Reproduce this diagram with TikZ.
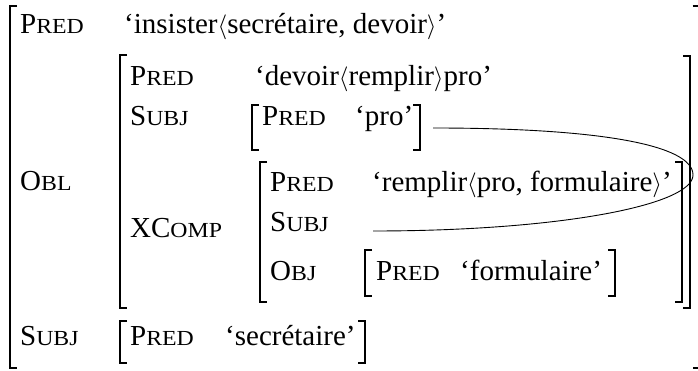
\documentclass[tikz,border=0pt]{standalone}
\usepackage{fontspec}
\setmainfont{Liberation Serif}
\usepackage{graphicx}
% small capitals built from scaled capitals
\newcommand\avmsc[2]{#1\scalebox{0.82}[0.74]{#2}}
\tikzset{
  attr/.style={anchor=base west, inner sep=0pt, font=\fontsize{29}{33}\selectfont},
  val/.style={attr},
  brk/.style={line width=1.2pt, line cap=butt, line join=miter},
  link/.style={line width=0.9pt},
}
% left and right square brackets: x, top, bottom
\newcommand\lbrk[3]{\draw[brk] (#1+7,#2) -- (#1,#2) -- (#1,#3) -- (#1+7,#3);}
\newcommand\rbrk[3]{\draw[brk] (#1-7,#2) -- (#1,#2) -- (#1,#3) -- (#1-7,#3);}
\begin{document}
\begin{tikzpicture}[x=1pt,y=-1pt]
\useasboundingbox (0,0) rectangle (698,371);

% outer f-structure
\lbrk{10}{6}{368}
\rbrk{699.5}{6}{368}
\node[attr] (pred1) at (20,34) {\avmsc{P}{RED}};
\node[val]  (pred1v) at (124,34) {‘insister$\langle$secrétaire, devoir$\rangle$’};
\node[attr] (obl) at (20,191) {\avmsc{O}{BL}};
\node[attr] (subj1) at (20,345) {\avmsc{S}{UBJ}};

% OBL value
\lbrk{120}{55}{308}
\rbrk{690}{56}{308}
\node[attr] (pred2) at (130,86) {\avmsc{P}{RED}};
\node[val]  (pred2v) at (255,86) {‘devoir$\langle$remplir$\rangle$pro’};
\node[attr] (subj2) at (130,126) {\avmsc{S}{UBJ}};
\node[attr] (xcomp) at (130,238) {X\avmsc{C}{OMP}};

% SUBJ value of OBL
\lbrk{252}{105}{150}
\node[attr] (pred3) at (262,126) {\avmsc{P}{RED}};
\node[val]  (pred3v) at (355,126) {‘pro’};
\rbrk{420}{105}{150}

% XCOMP value
\lbrk{260}{162}{302}
\rbrk{682}{162}{302}
\node[attr] (pred4) at (270,192) {\avmsc{P}{RED}};
\node[val]  (pred4v) at (372,192) {‘remplir$\langle$pro, formulaire$\rangle$’};
\node[attr] (subj4) at (270,232) {\avmsc{S}{UBJ}};
\node[attr] (obj4) at (270,280) {\avmsc{O}{BJ}};

% OBJ value of XCOMP
\lbrk{365}{250}{296}
\node[attr] (pred5) at (376,280) {\avmsc{P}{RED}};
\node[val]  (pred5v) at (460,280) {‘formulaire’};
\rbrk{615}{250}{296}

% SUBJ value of the outer structure
\lbrk{120}{321}{363}
\node[attr] (pred6) at (130,345) {\avmsc{P}{RED}};
\node[val]  (pred6v) at (225,345) {‘secrétaire’};
\rbrk{365}{321}{363}

% structure sharing between the two SUBJ values
\coordinate (shareA) at (433,128);
\coordinate (shareB) at (373,231);
\draw[link] (shareA) .. controls (600,128) and (693,145) .. (693,175)
  .. controls (693,205) and (560,231) .. (shareB);
\end{tikzpicture}
\end{document}
